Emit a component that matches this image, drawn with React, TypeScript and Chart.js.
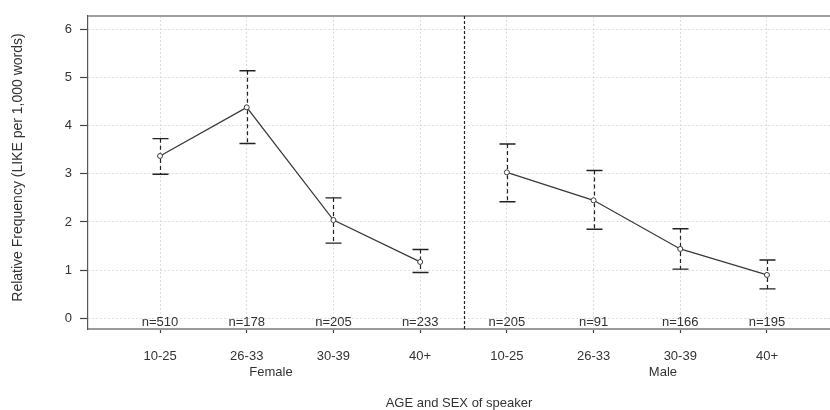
import React, { useEffect, useRef } from 'react';
import { Chart, registerables } from 'chart.js';

Chart.register(...registerables);

const ageGroups = ['10-25', '26-33', '30-39', '40+'];
const sexes = ['Female', 'Male'];
const femaleMean = [3.37, 4.38, 2.04, 1.17];
const femaleUpper = [3.73, 5.14, 2.5, 1.43];
const femaleLower = [2.99, 3.63, 1.56, 0.95];
const maleMean = [3.03, 2.45, 1.44, 0.9];
const maleUpper = [3.62, 3.07, 1.86, 1.21];
const maleLower = [2.42, 1.85, 1.02, 0.61];
const femaleN = [510, 178, 205, 233];
const maleN = [205, 91, 166, 195];
const yTitle = 'Relative Frequency (LIKE per 1,000 words)';
const xTitle = 'AGE and SEX of speaker';

const FONT = '"Liberation Sans", Arial, Helvetica, sans-serif';
const TEXT = '#333333';
const LINE = '#3a3a3a';

const overlay = {
  id: 'overlay',
  beforeDatasetsDraw(chart: any) {
    const { ctx, chartArea, scales } = chart;
    const xs = scales.x;
    ctx.save();
    ctx.strokeStyle = '#a0a0a0';
    ctx.lineWidth = 2;
    ctx.beginPath();
    ctx.moveTo(chartArea.left, chartArea.top);
    ctx.lineTo(chartArea.right, chartArea.top);
    ctx.stroke();
    const dx = Math.round(xs.getPixelForValue(ageGroups.length + 0.5)) + 0.5;
    ctx.strokeStyle = '#222';
    ctx.lineWidth = 1.2;
    ctx.setLineDash([3, 2]);
    ctx.beginPath();
    ctx.moveTo(dx, chartArea.top);
    ctx.lineTo(dx, chartArea.bottom);
    ctx.stroke();
    ctx.restore();
  },
  afterDatasetsDraw(chart: any) {
    const { ctx, scales } = chart;
    const xs = scales.x;
    const ys = scales.y;
    ctx.save();
    ctx.strokeStyle = '#222';
    chart.data.datasets.forEach((ds: any) => {
      ds.data.forEach((p: any, i: number) => {
        const px = Math.round(xs.getPixelForValue(p.x)) + 0.5;
        const yu = ys.getPixelForValue(ds.upper[i]);
        const yl = ys.getPixelForValue(ds.lower[i]);
        const yp = ys.getPixelForValue(p.y);
        ctx.lineWidth = 1.2;
        ctx.setLineDash([4, 3]);
        ctx.beginPath();
        ctx.moveTo(px, yu);
        ctx.lineTo(px, yp - 3);
        ctx.moveTo(px, yp + 3);
        ctx.lineTo(px, yl);
        ctx.stroke();
        ctx.setLineDash([]);
        ctx.lineWidth = 1.4;
        ctx.beginPath();
        ctx.moveTo(px - 8, yu);
        ctx.lineTo(px + 8, yu);
        ctx.moveTo(px - 8, yl);
        ctx.lineTo(px + 8, yl);
        ctx.stroke();
      });
    });
    ctx.restore();
  },
  afterDraw(chart: any) {
    const { ctx, chartArea, scales } = chart;
    const xs = scales.x;
    ctx.save();
    ctx.fillStyle = TEXT;
    ctx.font = '13px ' + FONT;
    ctx.textAlign = 'center';
    ctx.textBaseline = 'middle';
    chart.data.datasets.forEach((ds: any) => {
      ds.data.forEach((p: any, i: number) => {
        ctx.fillText('n=' + ds.n[i], xs.getPixelForValue(p.x), chartArea.bottom - 7);
      });
    });
    const groupPos = [2.28, 6.8];
    sexes.forEach((s, i) => {
      ctx.fillText(s, xs.getPixelForValue(groupPos[i]), chartArea.bottom + 43);
    });
    ctx.fillText(xTitle, (chartArea.left + 830) / 2, chartArea.bottom + 74);
    ctx.font = '14px ' + FONT;
    ctx.translate(18, (chartArea.top + chartArea.bottom) / 2 - 5);
    ctx.rotate(-Math.PI / 2);
    ctx.fillText(yTitle, 0, 0);
    ctx.restore();
  },
};

export default function App() {
  const ref = useRef<HTMLCanvasElement | null>(null);
  useEffect(() => {
    if (!ref.current) return;
    const chart = new Chart(ref.current, {
      type: 'line',
      data: {
        datasets: [
          {
            label: sexes[0],
            data: femaleMean.map((y, i) => ({ x: i + 1, y })),
            upper: femaleUpper,
            lower: femaleLower,
            n: femaleN,
            borderColor: LINE,
            borderWidth: 1.3,
            pointRadius: 2.5,
            pointBorderWidth: 1,
            pointBorderColor: LINE,
            pointBackgroundColor: '#ffffff',
            tension: 0,
          } as any,
          {
            label: sexes[1],
            data: maleMean.map((y, i) => ({ x: i + 1 + ageGroups.length, y })),
            upper: maleUpper,
            lower: maleLower,
            n: maleN,
            borderColor: LINE,
            borderWidth: 1.3,
            pointRadius: 2.5,
            pointBorderWidth: 1,
            pointBorderColor: LINE,
            pointBackgroundColor: '#ffffff',
            tension: 0,
          } as any,
        ],
      },
      options: {
        responsive: false,
        animation: false,
        devicePixelRatio: 1,
        layout: { padding: { top: 16, right: 11, left: 0, bottom: 0 } },
        plugins: { legend: { display: false }, tooltip: { enabled: false } },
        scales: {
          x: {
            type: 'linear',
            min: 0.169,
            max: 8.831,
            afterFit: (s: any) => {
              s.height = 81;
            },
            ticks: {
              stepSize: 1,
              includeBounds: false,
              autoSkip: false,
              maxRotation: 0,
              padding: 16,
              color: TEXT,
              font: { family: FONT, size: 13 },
              callback: (v: any) => {
                const k = Math.round(Number(v));
                return k >= 1 && k <= ageGroups.length * 2 ? ageGroups[(k - 1) % ageGroups.length] : '';
              },
            },
            grid: {
              color: '#dcdcdc',
              lineWidth: 1,
              tickColor: '#444',
              tickLength: 4,
              tickWidth: 1.2,
            },
            border: { display: true, color: '#9a9a9a', width: 2, dash: [2, 2] },
          },
          y: {
            type: 'linear',
            min: -0.222,
            max: 6.276,
            afterFit: (s: any) => {
              s.width = 88;
            },
            ticks: {
              stepSize: 1,
              includeBounds: false,
              padding: 8,
              color: TEXT,
              font: { family: FONT, size: 13 },
            },
            grid: {
              color: '#dcdcdc',
              lineWidth: 1,
              tickColor: '#444',
              tickLength: 8,
              tickWidth: 1.2,
            },
            border: { display: true, color: '#555', width: 1.2, dash: [2, 2] },
          },
        },
      } as any,
      plugins: [overlay],
    });
    return () => chart.destroy();
  }, []);
  return (
    <div style={{ position: 'absolute', left: 0, top: 0, width: 830, height: 410, overflow: 'hidden', background: '#fff' }}>
      <canvas ref={ref} width={850} height={410} style={{ display: 'block' }} />
    </div>
  );
}
